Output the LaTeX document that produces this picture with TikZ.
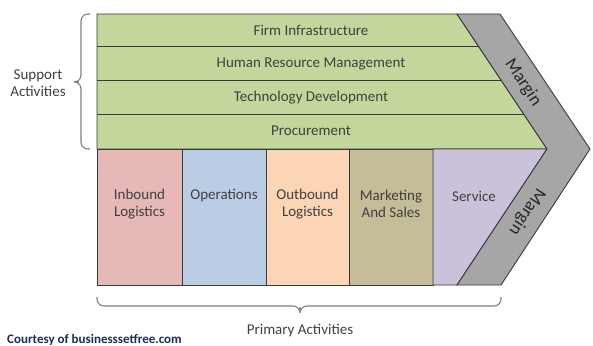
\documentclass[tikz,border=0pt]{standalone}
\usepackage{fontspec}
\setmainfont{Carlito}
\definecolor{grn}{HTML}{C3D69B}
\definecolor{pnk}{HTML}{E6B9B8}
\definecolor{blu}{HTML}{B9CDE5}
\definecolor{org}{HTML}{FCD5B5}
\definecolor{olv}{HTML}{C4BD97}
\definecolor{prp}{HTML}{CCC1DA}
\definecolor{gry}{HTML}{A6A6A6}
\definecolor{txt}{HTML}{404040}
\definecolor{edge}{HTML}{3A3A3A}
\definecolor{brc}{HTML}{808080}
\definecolor{navy}{HTML}{1F2A5C}
\begin{document}
\begin{tikzpicture}[x=1pt,y=-1pt,
  part/.style={draw=edge,line width=0.9pt,line join=miter},
  lbl/.style={text=txt,font=\fontsize{15}{17}\selectfont,align=center,inner sep=0pt},
  mlbl/.style={text=black!85,font=\fontsize{18}{20}\selectfont,inner sep=0pt},
  brace/.style={draw=brc,line width=1.1pt,rounded corners=7pt}]
\useasboundingbox (0,0) rectangle (593,345);
% support rows
\path[part,fill=grn] (97,14) -- (457,14) -- (547,149) -- (97,149) -- cycle;
\coordinate (r1) at (478.3,46);
\coordinate (r2) at (501,80);
\coordinate (r3) at (523.7,114);
\draw[part] (97,46) -- (r1);
\draw[part] (97,80) -- (r2);
\draw[part] (97,114) -- (r3);
% primary boxes
\path[part,fill=pnk] (97,149) rectangle (182,285);
\path[part,fill=blu] (182,149) rectangle (266,285);
\path[part,fill=org] (266,149) rectangle (349,285);
\path[part,fill=olv] (349,149) rectangle (433,285);
\path[part,fill=prp] (433,149) -- (547,149) -- (457,285) -- (433,285) -- cycle;
% margin chevron
\path[part,fill=gry] (457,14) -- (500,14) -- (590,149) -- (501,285) -- (457,285) -- (547,149) -- cycle;
% labels
\node[lbl] (firm) at (311,30) {Firm Infrastructure};
\node[lbl] (hrm) at (311,64) {Human Resource Management};
\node[lbl] (tech) at (311,98) {Technology Development};
\node[lbl] (proc) at (311,131) {Procurement};
\node[lbl] (inb) at (139.5,204) {Inbound\\Logistics};
\node[lbl] (ops) at (224,196) {Operations};
\node[lbl] (outb) at (307.5,204) {Outbound\\Logistics};
\node[lbl] (mkt) at (391,204) {Marketing\\And Sales};
\node[lbl] (srv) at (474,196) {Service};
\node[mlbl,rotate=-56.3] (m1) at (523,83) {Margin};
\node[mlbl,rotate=-123] (m2) at (527,212) {Margin};
% braces
\draw[brace] (90,14) -- (81,14) -- (81,82) -- (72,82) -- (81,82) -- (81,149) -- (90,149);
\draw[brace] (97,297) -- (97,306) -- (300,306) -- (300,314) -- (300,306) -- (501,306) -- (501,297);
\node[lbl] (sup) at (38,83) {Support\\Activities};
\node[lbl] (prim) at (300,331) {Primary Activities};
\node[text=navy,font=\bfseries\fontsize{13}{14}\selectfont,anchor=base west,inner sep=0pt] (court) at (7,343) {Courtesy of businesssetfree.com};
\end{tikzpicture}
\end{document}
